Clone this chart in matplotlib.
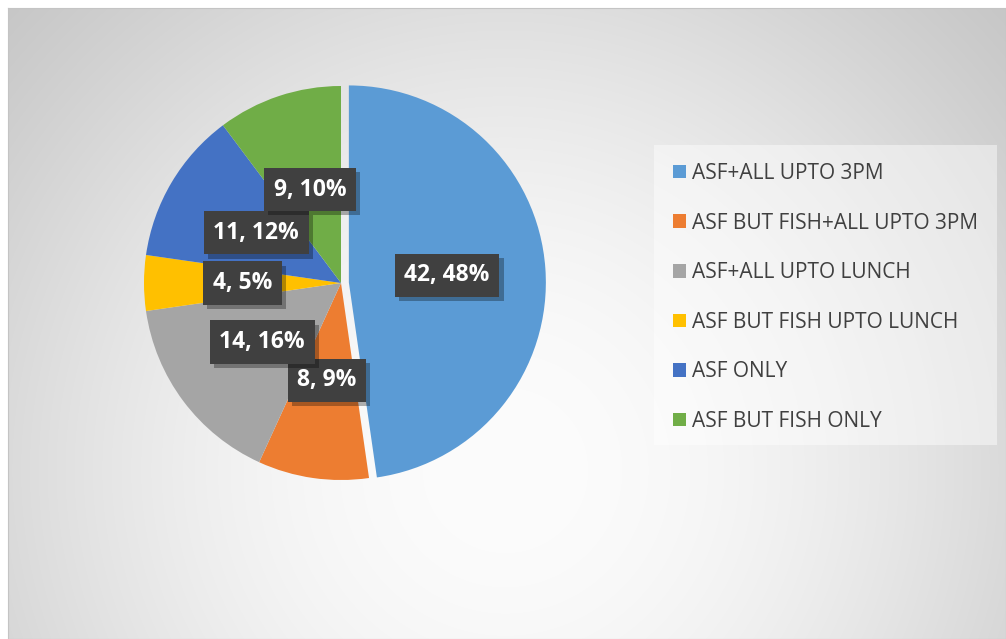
import numpy as np
import matplotlib
matplotlib.use("Agg")
import matplotlib.pyplot as plt
import matplotlib.patheffects as pe
from matplotlib.patches import Rectangle, Patch

categories = ["ASF+ALL UPTO 3PM", "ASF BUT FISH+ALL UPTO 3PM", "ASF+ALL UPTO LUNCH",
              "ASF BUT FISH UPTO LUNCH", "ASF ONLY", "ASF BUT FISH ONLY"]
counts = [42, 8, 14, 4, 11, 9]
percents = [48, 9, 16, 5, 12, 10]
colors = ["#5B9BD5", "#ED7D31", "#A5A5A5", "#FFC000", "#4472C4", "#70AD47"]

W, H = 1006, 639
fig = plt.figure(figsize=(W / 100, H / 100), dpi=100)
fig.patch.set_facecolor("white")

# background with radial gradient (chart area starts a few px in)
bg = fig.add_axes([8 / W, 0, (W - 8) / W, (H - 8) / H])
yy, xx = np.mgrid[8:H, 8:W]
q2 = ((xx - 505) / 470.0) ** 2 + ((yy - 470) / 470.0) ** 2
val = (252 - 72 * np.tanh(0.45 * q2)) / 255.0
bg.imshow(np.dstack([val, val, val]), aspect="auto", extent=[0, 1, 0, 1], origin="upper")
bg.set_xticks([])
bg.set_yticks([])
for s in bg.spines.values():
    s.set_color("#c4c4c4")
    s.set_linewidth(0.8)

# pie axes, center at (341, 283) px, radius 197 px
cx, cy, R = 341, 283, 197
sc = 1.1
aw, ah = 2 * R * sc / W, 2 * R * sc / H
ax = fig.add_axes([cx / W - aw / 2, 1 - cy / H - ah / 2, aw, ah])
ax.axis("off")

explode = [0.04, 0, 0, 0, 0, 0]
wedges, _ = ax.pie(counts, colors=colors, startangle=90, counterclock=False,
                   explode=explode, radius=1)
ax.set_xlim(-sc, sc)
ax.set_ylim(-sc, sc)

for w, c, p in zip(wedges, counts, percents):
    ang = np.deg2rad((w.theta1 + w.theta2) / 2)
    x0, y0 = w.center
    t = ax.text(x0 + 0.5 * np.cos(ang), y0 + 0.5 * np.sin(ang), f"{c}, {p}%",
                ha="center", va="center", color="white", fontsize=16.5,
                fontweight="bold", family="Open Sans",
                bbox=dict(boxstyle="square,pad=0.42", fc="#404040", ec="none"))
    t.get_bbox_patch().set_path_effects([
        pe.SimplePatchShadow(offset=(3, -3), shadow_rgbFace="black", alpha=0.3),
        pe.Normal()])

# legend box
fig.patches.append(Rectangle((654 / W, 1 - 445 / H), (997 - 654) / W, 300 / H,
                             transform=fig.transFigure, fc="white", ec="none",
                             alpha=0.45, zorder=1))
handles = [Patch(facecolor=c, edgecolor="none") for c in colors]
leg = fig.legend(handles, categories, loc="upper left",
                 bbox_to_anchor=(673 / W, 1 - 163 / H), frameon=False,
                 labelspacing=1.37, handlelength=0.62, handleheight=0.62,
                 handletextpad=0.3, borderpad=0, borderaxespad=0,
                 prop={"family": "Open Sans", "size": 15})
for txt in leg.get_texts():
    txt.set_color("#404040")

fig.savefig("out.png", dpi=100)
